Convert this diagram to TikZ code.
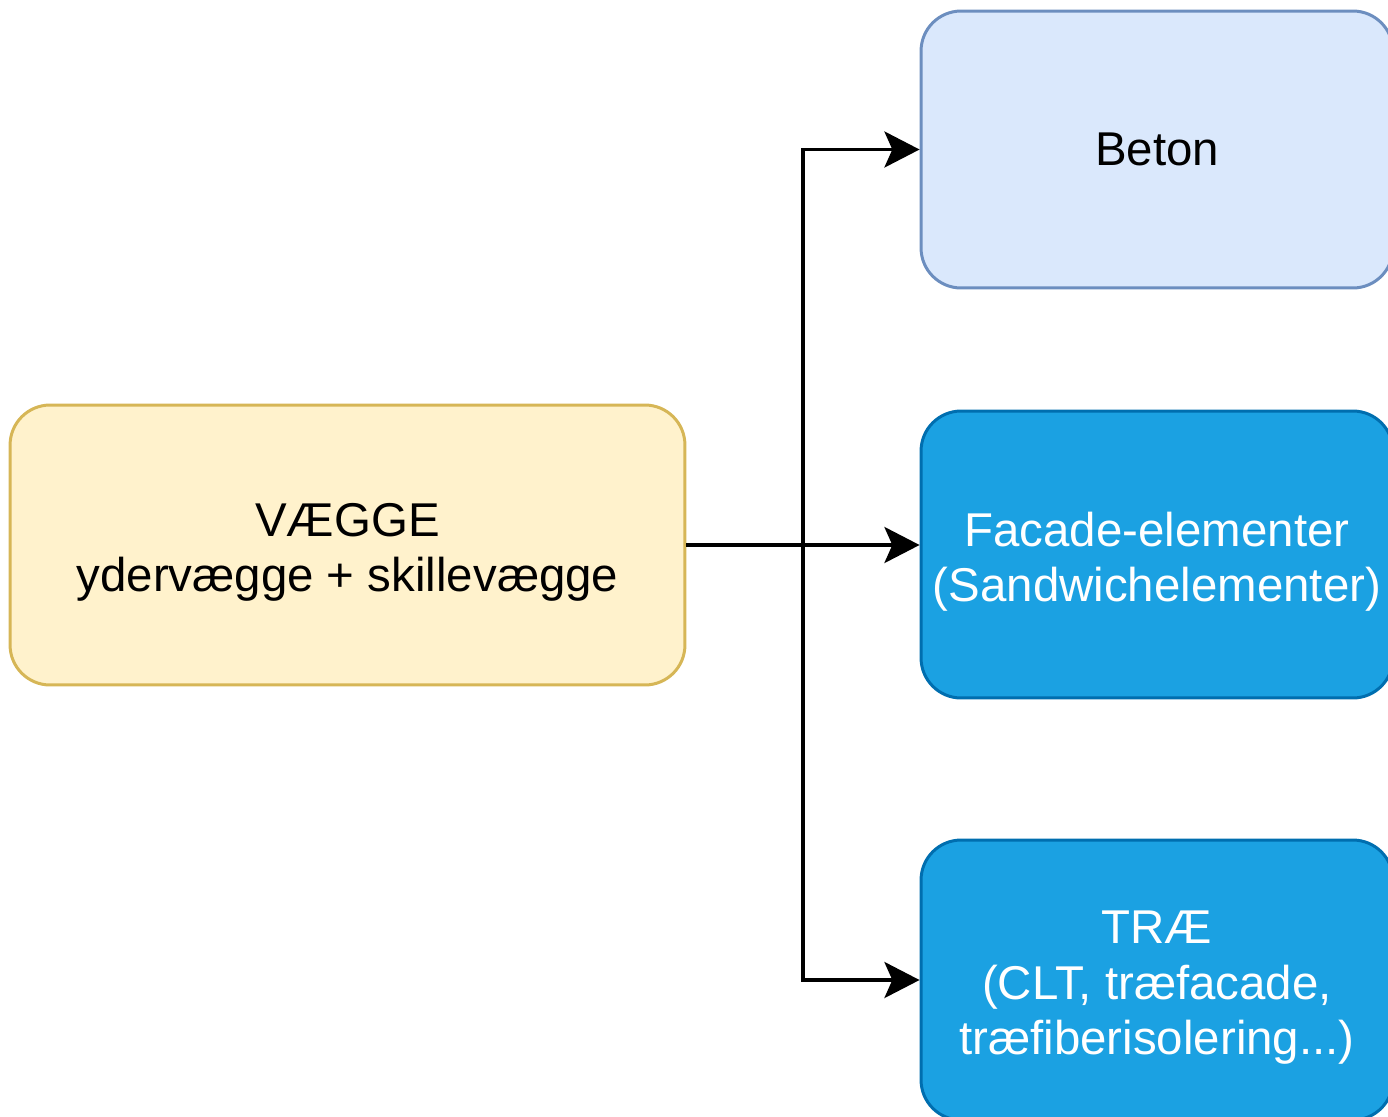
\documentclass[tikz,border=0pt]{standalone}
\usepackage{fontspec}
\setmainfont{Liberation Sans}
\usetikzlibrary{arrows.meta}
\definecolor{yelfill}{HTML}{FFF2CC}
\definecolor{yeldraw}{HTML}{D6B656}
\definecolor{lbfill}{HTML}{DAE8FC}
\definecolor{lbdraw}{HTML}{6C8EBF}
\definecolor{bfill}{HTML}{1BA1E2}
\definecolor{bdraw}{HTML}{006EAF}
\newcommand{\toppad}{\rule{0pt}{27.5pt}}
\begin{document}
\begin{tikzpicture}[x=0.02cm,y=-0.02cm,
    box/.style={rounded corners=0.8cm, line width=1.7pt, align=center,
      font=\fontsize{27}{31.5}\selectfont, inner sep=0pt},
    wallbox/.style={box, fill=yelfill, draw=yeldraw, minimum width=13.5cm, minimum height=5.6cm},
    matbox/.style={box, minimum width=9.44cm},
    link/.style={line width=2pt, -{Stealth[length=20pt, width=20.5pt, inset=4.5pt]}}]
    \useasboundingbox (0,0) rectangle (1388,1116);
    \node [wallbox] (vaegge) at (347.5,545) {\toppad VÆGGE\\ydervægge + skillevægge};
    \node [matbox, fill=lbfill, draw=lbdraw, minimum height=5.54cm] (beton) at (1157,149.5) {Beton};
    \node [matbox, fill=bfill, draw=bdraw, text=white, minimum height=5.74cm] (facade) at (1157,554.5)
      {\toppad Facade-elementer\\(Sandwichelementer)};
    \node [matbox, fill=bfill, draw=bdraw, text=white, minimum height=5.6cm] (trae) at (1157,980)
      {\toppad TRÆ\\(CLT, træfacade,\\træfiberisolering...)};
    \coordinate (split) at (803,545);
    \draw [link] (vaegge.east) -- (vaegge.east -| facade.west);
    \draw [link] (vaegge.east) -- (split) |- (beton.west);
    \draw [link] (vaegge.east) -- (split) |- (trae.west);
\end{tikzpicture}
\end{document}
